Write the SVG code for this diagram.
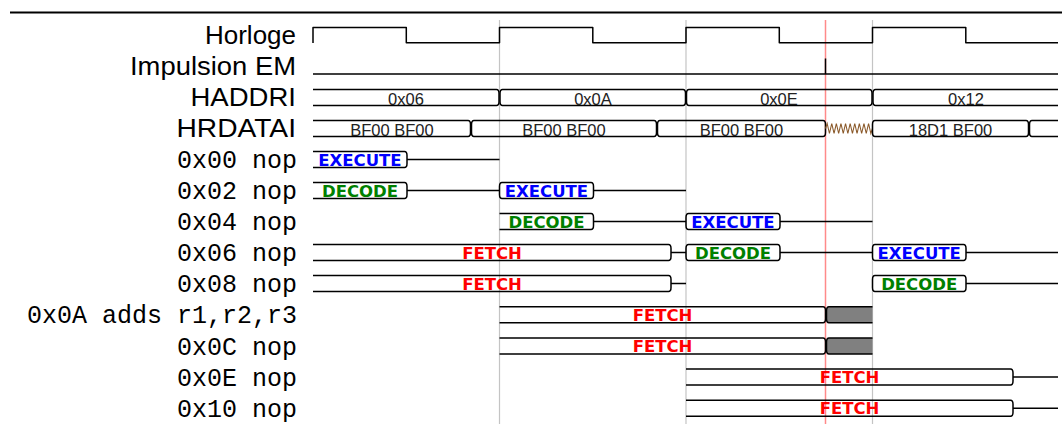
<svg xmlns="http://www.w3.org/2000/svg" width="1062" height="424" viewBox="0 0 1062 424">
<style>
.w{fill:none;stroke:#000;stroke-width:1.5;stroke-linejoin:round}
.z{fill:none;stroke:#8b5a2b;stroke-width:1.1}
.g{fill:#808080;stroke:none}
.lbl{font-family:"Liberation Sans",Arial,sans-serif;font-size:26px;fill:#000}
.mono{font-family:"Liberation Mono","DejaVu Sans Mono",monospace;font-size:25px;fill:#000;text-anchor:end}
.bus{font-family:"Liberation Sans",Arial,sans-serif;font-size:16.5px;fill:#222;text-anchor:middle}
.st{font-family:"DejaVu Sans",Verdana,sans-serif;font-weight:bold;font-size:16.5px;text-anchor:middle}
.ex{fill:#0000ff}.de{fill:#008000}.fe{fill:#ff0000}
.grid{stroke:#c4c4c4;stroke-width:1.2}
.red{stroke:#ff8a8a;stroke-width:1.5}
</style>
<rect width="1062" height="424" fill="#fff"/>
<line x1="10" y1="12.5" x2="1062" y2="12.5" stroke="#000" stroke-width="1.8"/>
<g id="guides">
<line class="grid" x1="499.5" y1="20" x2="499.5" y2="424"/>
<line class="grid" x1="686" y1="20" x2="686" y2="424"/>
<line class="grid" x1="872.5" y1="20" x2="872.5" y2="424"/>
<line class="red" x1="825.5" y1="20" x2="825.5" y2="424"/>
</g>
<g id="labels">
<text class="lbl" x="205" y="44" textLength="91" lengthAdjust="spacingAndGlyphs">Horloge</text>
<text class="lbl" x="130" y="75" textLength="166" lengthAdjust="spacingAndGlyphs">Impulsion EM</text>
<text class="lbl" x="190.5" y="106" textLength="105.5" lengthAdjust="spacingAndGlyphs">HADDRI</text>
<text class="lbl" x="176.5" y="137" textLength="119.5" lengthAdjust="spacingAndGlyphs">HRDATAI</text>
<text class="mono" x="297" y="168">0x00 nop</text>
<text class="mono" x="297" y="199">0x02 nop</text>
<text class="mono" x="297" y="230">0x04 nop</text>
<text class="mono" x="297" y="261">0x06 nop</text>
<text class="mono" x="297" y="292">0x08 nop</text>
<text class="mono" x="297" y="323.2">0x0A adds r1,r2,r3</text>
<text class="mono" x="297" y="354.5">0x0C nop</text>
<text class="mono" x="297" y="385.6">0x0E nop</text>
<text class="mono" x="297" y="416.7">0x10 nop</text>
</g>
<g id="clock">
<path class="w" d="M313,43 V27.5 H406.3 V42.7 H499.5 V27.5 H592.8 V42.7 H686 V27.5 H779.3 V42.7 H872.5 V27.5 H965.8 V42.7 H1058"/>
</g>
<g id="impulsion">
<path class="w" d="M313,74 H1058 M825.5,74 V58.5"/>
</g>
<g id="haddri">
<path class="w" d="M313,89.5 H496.5 Q499,89.5 499,93.5 V101.5 Q499,105.5 496.5,105.5 H313"/>
<path class="w" d="M502.5,105.5 Q500,105.5 500,101.5 V93.5 Q500,89.5 502.5,89.5 H683 Q685.5,89.5 685.5,93.5 V101.5 Q685.5,105.5 683,105.5 Z"/>
<path class="w" d="M689,105.5 Q686.5,105.5 686.5,101.5 V93.5 Q686.5,89.5 689,89.5 H869.5 Q872,89.5 872,93.5 V101.5 Q872,105.5 869.5,105.5 Z"/>
<path class="w" d="M1058,105.5 H875.5 Q873,105.5 873,101.5 V93.5 Q873,89.5 875.5,89.5 H1058"/>
<text class="bus" x="406" y="104.5">0x06</text>
<text class="bus" x="593" y="104.5">0x0A</text>
<text class="bus" x="779" y="104.5">0x0E</text>
<text class="bus" x="966" y="104.5">0x12</text>
</g>
<g id="hrdatai">
<path class="w" d="M313,120.5 H468 Q470.5,120.5 470.5,124.5 V132.5 Q470.5,136.5 468,136.5 H313"/>
<path class="w" d="M474,136.5 Q471.5,136.5 471.5,132.5 V124.5 Q471.5,120.5 474,120.5 H654 Q656.5,120.5 656.5,124.5 V132.5 Q656.5,136.5 654,136.5 Z"/>
<path class="w" d="M660,136.5 Q657.5,136.5 657.5,132.5 V124.5 Q657.5,120.5 660,120.5 H823 Q825.5,120.5 825.5,124.5 V132.5 Q825.5,136.5 823,136.5 Z"/>
<path class="z" d="M825.5,128.5 L827.15,123.5 L829.45,133.5 L831.75,123.5 L834.05,133.5 L836.35,123.5 L838.65,133.5 L840.95,123.5 L843.25,133.5 L845.55,123.5 L847.85,133.5 L850.15,123.5 L852.45,133.5 L854.75,123.5 L857.05,133.5 L859.35,123.5 L861.65,133.5 L863.95,123.5 L866.25,133.5 L868.55,123.5 L870.85,133.5 L872.5,128.5"/>
<path class="w" d="M875,136.5 Q872.5,136.5 872.5,132.5 V124.5 Q872.5,120.5 875,120.5 H1026 Q1028.5,120.5 1028.5,124.5 V132.5 Q1028.5,136.5 1026,136.5 Z"/>
<path class="w" d="M1058,136.5 H1032 Q1029.5,136.5 1029.5,132.5 V124.5 Q1029.5,120.5 1032,120.5 H1058"/>
<text class="bus" x="392" y="136">BF00 BF00</text>
<text class="bus" x="564" y="136">BF00 BF00</text>
<text class="bus" x="741.5" y="136">BF00 BF00</text>
<text class="bus" x="950.5" y="136">18D1 BF00</text>
</g>
<g id="i0x00">
<path class="w" d="M313,151.5 H404.5 Q407,151.5 407,155.5 V163.5 Q407,167.5 404.5,167.5 H313 M407,159.5 H499.5"/>
<text class="st ex" x="360" y="165.5">EXECUTE</text>
</g>
<g id="i0x02">
<path class="w" d="M313,182.5 H404.5 Q407,182.5 407,186.5 V194.5 Q407,198.5 404.5,198.5 H313 M407,190.5 H499.5"/>
<path class="w" d="M502,198.5 Q499.5,198.5 499.5,194.5 V186.5 Q499.5,182.5 502,182.5 H591 Q593.5,182.5 593.5,186.5 V194.5 Q593.5,198.5 591,198.5 Z M593.5,190.5 H686"/>
<text class="st de" x="360" y="196.5">DECODE</text>
<text class="st ex" x="546.5" y="196.5">EXECUTE</text>
</g>
<g id="i0x04">
<path class="w" d="M499.5,213.5 H591 Q593.5,213.5 593.5,217.5 V225.5 Q593.5,229.5 591,229.5 H499.5 M593.5,221.5 H686"/>
<path class="w" d="M688.5,229.5 Q686,229.5 686,225.5 V217.5 Q686,213.5 688.5,213.5 H777.5 Q780,213.5 780,217.5 V225.5 Q780,229.5 777.5,229.5 Z M780,221.5 H872.5"/>
<text class="st de" x="546.5" y="227.5">DECODE</text>
<text class="st ex" x="733" y="227.5">EXECUTE</text>
</g>
<g id="i0x06">
<path class="w" d="M313,244.5 H668.5 Q671,244.5 671,248.5 V256.5 Q671,260.5 668.5,260.5 H313 M671,252.5 H686"/>
<path class="w" d="M688.5,260.5 Q686,260.5 686,256.5 V248.5 Q686,244.5 688.5,244.5 H777.5 Q780,244.5 780,248.5 V256.5 Q780,260.5 777.5,260.5 Z M780,252.5 H872.5"/>
<path class="w" d="M875,260.5 Q872.5,260.5 872.5,256.5 V248.5 Q872.5,244.5 875,244.5 H963.5 Q966,244.5 966,248.5 V256.5 Q966,260.5 963.5,260.5 Z M966,252.5 H1058"/>
<text class="st fe" x="492" y="258.5">FETCH</text>
<text class="st de" x="733" y="258.5">DECODE</text>
<text class="st ex" x="919.2" y="258.5">EXECUTE</text>
</g>
<g id="i0x08">
<path class="w" d="M313,275.5 H668.5 Q671,275.5 671,279.5 V287.5 Q671,291.5 668.5,291.5 H313 M671,283.5 H686"/>
<path class="w" d="M875,291.5 Q872.5,291.5 872.5,287.5 V279.5 Q872.5,275.5 875,275.5 H963.5 Q966,275.5 966,279.5 V287.5 Q966,291.5 963.5,291.5 Z M966,283.5 H1058"/>
<text class="st fe" x="492" y="289.5">FETCH</text>
<text class="st de" x="919.2" y="289.5">DECODE</text>
</g>
<g id="i0x0A">
<path class="w" d="M499.5,306.7 H823 Q825.5,306.7 825.5,310.7 V318.7 Q825.5,322.7 823,322.7 H499.5"/>
<path class="g" d="M872.5,306.7 H829 Q826.5,306.7 826.5,310.7 V318.7 Q826.5,322.7 829,322.7 H872.5 Z"/>
<path class="w" d="M872.5,306.7 H829 Q826.5,306.7 826.5,310.7 V318.7 Q826.5,322.7 829,322.7 H872.5"/>
<text class="st fe" x="662.5" y="320.7">FETCH</text>
</g>
<g id="i0x0C">
<path class="w" d="M499.5,338 H823 Q825.5,338 825.5,342 V350 Q825.5,354 823,354 H499.5"/>
<path class="g" d="M872.5,338 H829 Q826.5,338 826.5,342 V350 Q826.5,354 829,354 H872.5 Z"/>
<path class="w" d="M872.5,338 H829 Q826.5,338 826.5,342 V350 Q826.5,354 829,354 H872.5"/>
<text class="st fe" x="662.5" y="352">FETCH</text>
</g>
<g id="i0x0E">
<path class="w" d="M686,369.1 H1010.5 Q1013,369.1 1013,373.1 V381.1 Q1013,385.1 1010.5,385.1 H686 M1013,377.1 H1058"/>
<text class="st fe" x="849.5" y="383.1">FETCH</text>
</g>
<g id="i0x10">
<path class="w" d="M686,400.2 H1010.5 Q1013,400.2 1013,404.2 V412.2 Q1013,416.2 1010.5,416.2 H686 M1013,408.2 H1058"/>
<text class="st fe" x="849.5" y="414.2">FETCH</text>
</g>
</svg>
